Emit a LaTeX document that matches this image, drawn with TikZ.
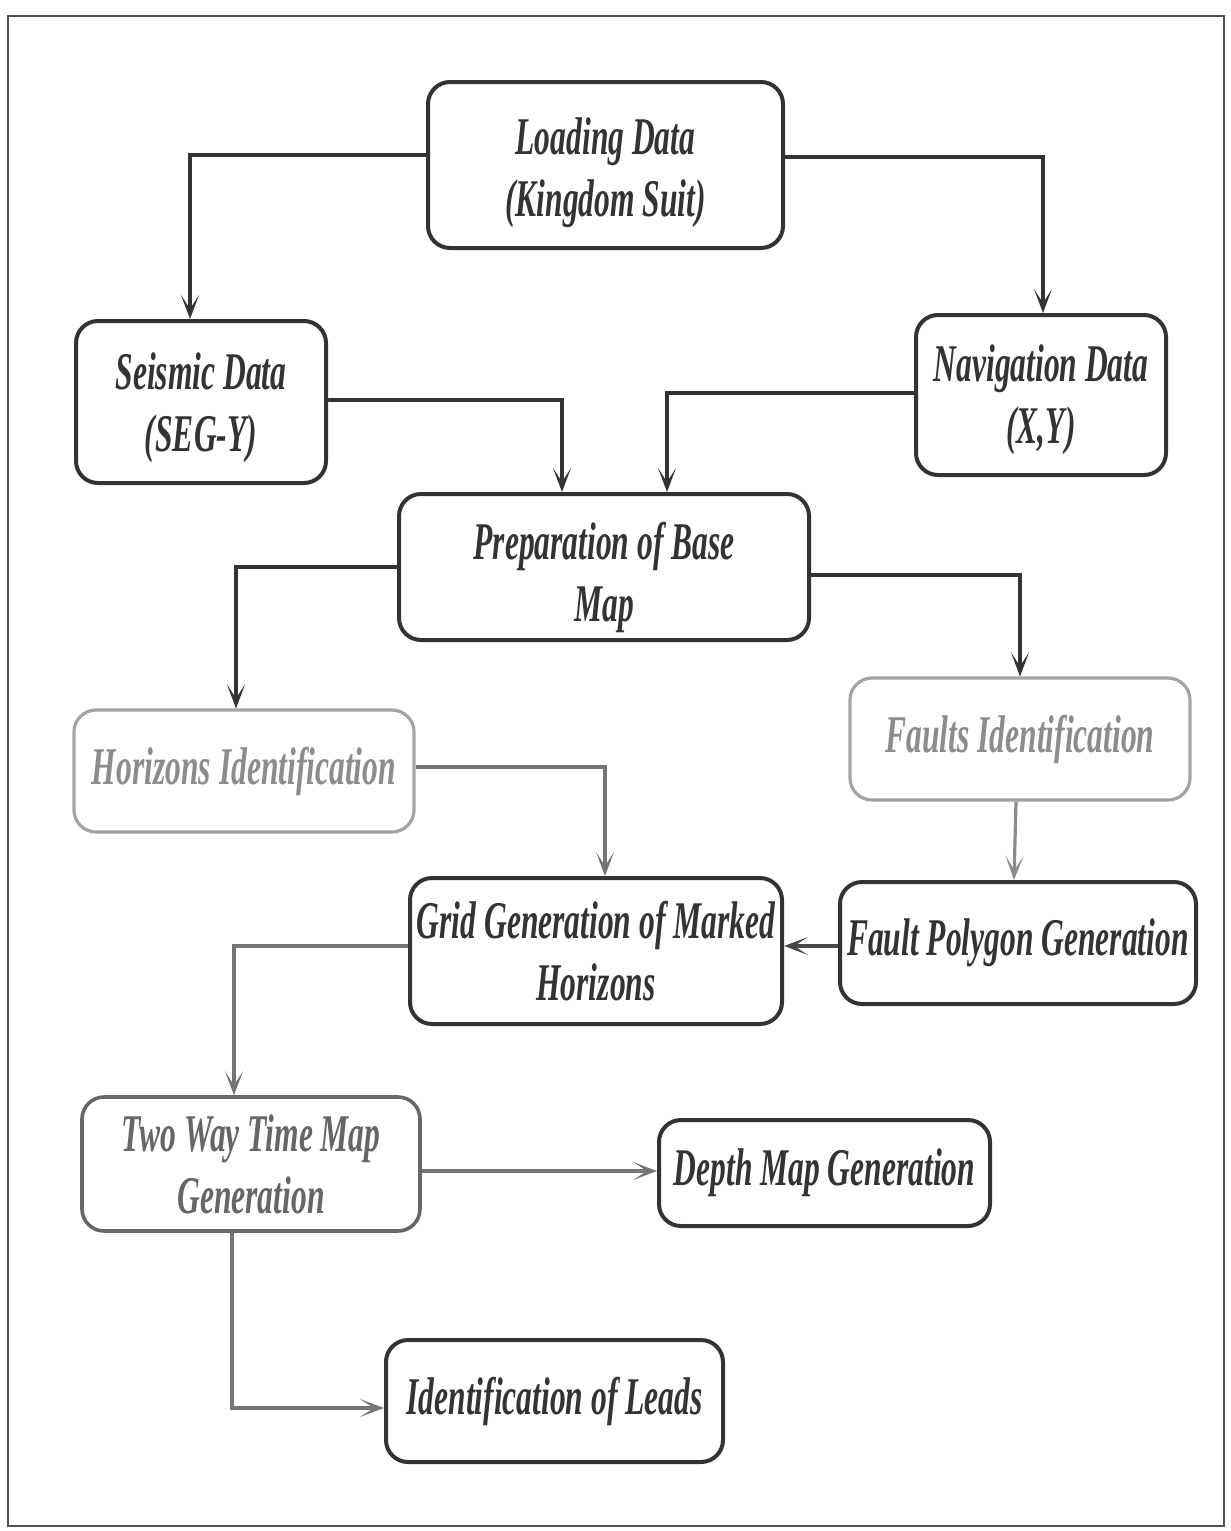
\documentclass[tikz,border=0pt]{standalone}
\usepackage{fontspec}
\setmainfont{Liberation Serif}
\newfontfamily\boxfont[FakeStretch=0.595]{Liberation Serif}
\usetikzlibrary{arrows.meta,positioning,calc}
\definecolor{ink}{HTML}{333333}
\definecolor{midg}{HTML}{666666}
\definecolor{lightg}{HTML}{8C8C8C}
\tikzset{
  txt/.style={align=center, inner sep=0pt, text=ink,
    font=\boxfont\bfseries\itshape\fontsize{26.5}{31}\selectfont},
  box/.style={txt, draw=ink, line width=2pt, rounded corners=11pt, fill=white,
    inner sep=2pt},
  greybox/.style={box, draw=lightg!80, text=lightg, line width=1.6pt},
  midbox/.style={box, draw=midg, text=midg, line width=1.8pt},
  conn/.style={draw=ink, line width=1.7pt,
    -{Stealth[length=12pt,width=9pt,inset=7pt]}},
  gconn/.style={conn, draw=midg!90, line width=1.6pt},
}
\begin{document}
\begin{tikzpicture}[x=0.5pt,y=-0.5pt]
\useasboundingbox (0,0) rectangle (1231,1531);
\fill[white] (0,0) rectangle (1231,1531);
\draw[draw=ink!85, line width=1pt] (8,16) rectangle (1224,1526);

\node[box, minimum width=177.5pt, minimum height=83pt] (load) at (605.5,165) {};
\node[txt] (loadtext) at (605.5,172.5) {Loading Data\\(Kingdom Suit)};
\node[box, minimum width=125pt, minimum height=81pt] (seis) at (201,402) {};
\node[txt] (seistext) at (201,408) {Seismic Data\\(SEG-Y)};
\node[box, minimum width=125pt, minimum height=80pt] (nav) at (1041,395) {};
\node[txt] (navtext) at (1041,400) {Navigation Data\\(X,Y)};
\node[box, minimum width=205pt, minimum height=73pt] (prep) at (604,567) {};
\node[txt] (preptext) at (604,577) {Preparation of Base\\Map};
\node[greybox, minimum width=170pt, minimum height=61pt] (hor) at (244,771) {Horizons Identification};
\node[greybox, minimum width=170pt, minimum height=61pt] (fault) at (1020,739) {Faults Identification};
\node[box, minimum width=186pt, minimum height=73pt] (grid) at (596,951) {Grid Generation of Marked\\Horizons};
\node[box, minimum width=178pt, minimum height=61pt] (poly) at (1018,943) {Fault Polygon Generation};
\node[midbox, minimum width=169pt, minimum height=67pt] (twt) at (251,1164) {Two Way Time Map\\Generation};
\node[box, minimum width=165.5pt, minimum height=53pt] (depth) at (824.5,1173) {Depth Map Generation};
\node[box, minimum width=168.5pt, minimum height=61pt] (leads) at (554.5,1401) {Identification of Leads};

\draw[conn] ([yshift=5pt]load.west) -| ([xshift=-5.5pt]seis.north);
\draw[conn] ([yshift=4pt]load.east) -| ([xshift=1pt]nav.north);
\draw[conn] ([yshift=1pt]seis.east) -| ([xshift=-21pt]prep.north);
\draw[conn] ([yshift=1pt]nav.west) -| ([xshift=31.5pt]prep.north);
\draw[conn] (prep.west) -| ([xshift=-4pt]hor.north);
\draw[conn] ([yshift=-4pt]prep.east) -| (fault.north);
\draw[gconn] ([yshift=2pt]hor.east) -| ([xshift=4.5pt]grid.north);
\draw[gconn, draw=lightg] ([xshift=-2pt]fault.south) -- ([xshift=-2pt]poly.north);
\draw[conn, draw=ink!90] ([yshift=-1.5pt]poly.west) -- ([yshift=-1.5pt]poly.west -| grid.east);
\draw[gconn] ([yshift=2.5pt]grid.west) -| ([xshift=-8.5pt]twt.north);
\draw[gconn] ([yshift=-3.5pt]twt.east) -- ([yshift=-3.5pt]twt.east -| depth.west);
\coordinate (bend) at ([xshift=-9.5pt]twt.south |- 0,1408);
\draw[gconn] ([xshift=-9.5pt]twt.south) -- (bend) -- (bend -| leads.west);
\end{tikzpicture}
\end{document}
